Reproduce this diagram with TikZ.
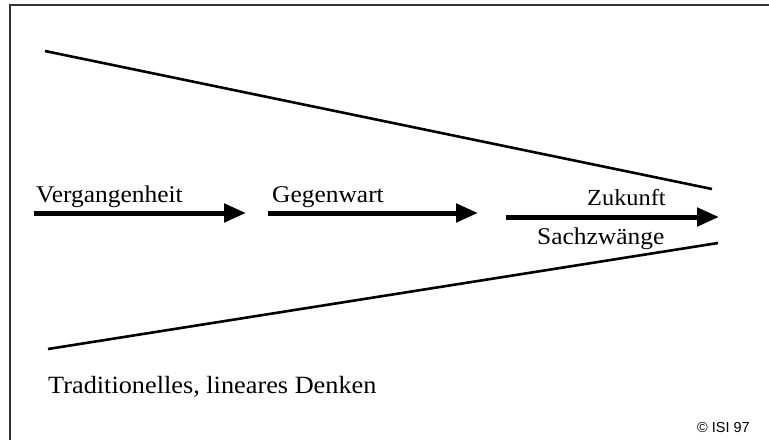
\documentclass[tikz,border=0pt]{standalone}
\usepackage{fontspec}
\setmainfont[FakeStretch=1.06]{Liberation Serif}
\newfontfamily\copysans{Liberation Sans}
\usetikzlibrary{arrows.meta}
\begin{document}
\begin{tikzpicture}[x=1pt,y=-1pt,
  frame/.style={line width=2pt, draw=black!80},
  ray/.style={line width=2.6pt},
  flow/.style={line width=5pt, -{Triangle[length=22pt,width=18pt]}},
  lbl/.style={anchor=base west, inner sep=0pt, font=\fontsize{24}{28}\selectfont}]
\useasboundingbox (0,0) rectangle (769,440);
% frame
\coordinate (fb) at (10,440);
\coordinate (fc) at (10,5);
\coordinate (fr) at (769,5);
\draw[frame] (fb) -- (fc) -- (fr);
% funnel rays
\coordinate (u1) at (45,51);
\coordinate (u2) at (712,189);
\coordinate (l1) at (48,349);
\coordinate (l2) at (718,243);
\draw[ray] (u1) -- (u2);
\draw[ray] (l1) -- (l2);
% arrows
\coordinate (a1s) at (34,213);
\coordinate (a1e) at (246,213);
\coordinate (a2s) at (268,213);
\coordinate (a2e) at (478,213);
\coordinate (a3s) at (506,217);
\coordinate (a3e) at (719,217);
\draw[flow] (a1s) -- (a1e);
\draw[flow] (a2s) -- (a2e);
\draw[flow] (a3s) -- (a3e);
% labels
\node[lbl] (past) at (36,202) {Vergangenheit};
\node[lbl] (present) at (272,202) {Gegenwart};
\node[lbl, font=\fontsize{23}{27}\selectfont] (future) at (587,205) {Zukunft};
\node[lbl] (constraints) at (537,244) {Sachzwänge};
\node[lbl, font=\fontsize{24.8}{29}\selectfont] (title) at (48,393) {Traditionelles, lineares Denken};
\node[anchor=base west, inner sep=0pt, font=\copysans\fontsize{14.5}{17}\selectfont] (copy) at (697,432) {© ISI 97};
\end{tikzpicture}
\end{document}
